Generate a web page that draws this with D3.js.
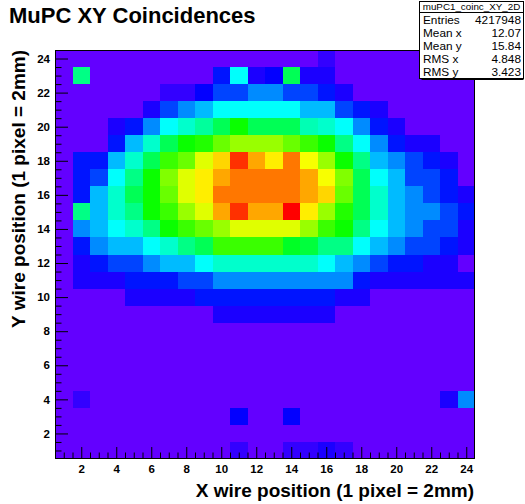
<!DOCTYPE html>
<html>
<head>
<meta charset="utf-8">
<script src="https://cdn.jsdelivr.net/npm/d3@7"></script>
<style>
  body { margin: 0; background: #fff; }
  svg { display: block; }
  text { font-family: "Liberation Sans", Arial, Helvetica, sans-serif; fill: #000; }
</style>
</head>
<body>
<svg id="chart" width="525" height="504"></svg>
<script>
// Wire numbers along each axis (bin centres)
const xBins = [1,2,3,4,5,6,7,8,9,10,11,12,13,14,15,16,17,18,19,20,21,22,23,24];
// Rows listed top to bottom
const yBins = [24,23,22,21,20,19,18,17,16,15,14,13,12,11,10,9,8,7,6,5,4,3,2,1];

// Coincidence counts, one row per Y wire (Y = 24 first), one column per X wire
const counts = [
  [1510,1470,1490,1480,1500,1460,1520,1490,1470,1500,1480,1510,1490,1470,1500,2690,1480,1490,1500,1470,1490,1510,1480,1460],
  [1480,13440,1500,1490,1470,1510,1490,1480,1500,4480,10450,3290,3880,14640,3290,3290,1490,1480,1500,1470,1490,1510,1480,1470],
  [1490,1500,1480,1470,1510,1490,2690,2690,3880,5680,5680,7470,7470,5680,5680,4480,3290,1500,1480,1490,1470,1500,1490,1480],
  [1500,1480,1490,1510,1470,3290,5680,7470,8660,10450,10450,10450,10450,10450,8660,8660,5680,4480,3290,1490,1500,1480,1470,1490],
  [1470,1490,1500,3290,4480,7470,10450,11650,12840,14640,17030,14640,14640,14640,12250,11650,10450,7470,4480,3290,1490,1480,1500,1490],
  [1490,1510,1480,4480,8660,11650,14640,17030,17620,19420,20610,20610,20610,19420,18220,17030,13440,10450,7470,4480,3290,3290,1490,1500],
  [1480,4480,4480,8660,11650,14640,18220,19420,22400,24200,28380,25390,23600,26590,23000,20610,17030,13440,8660,7470,5680,4480,3290,1490],
  [1500,4480,5680,10450,13440,17030,20010,22400,23600,25390,26590,26590,26590,26590,25390,23000,20010,14640,10450,8660,5680,5680,4480,1480],
  [1490,4480,8660,11650,14640,17030,19420,22400,23600,26590,26590,26590,26590,26590,25390,24200,19420,14640,11650,8660,7470,5680,4480,3290],
  [1470,13440,8660,11650,13440,17030,18220,20610,22400,25390,28380,25390,25390,29870,23600,20610,17620,14640,11650,8660,7470,7470,5680,4480],
  [1500,7470,8660,10450,11650,13440,17030,18220,19420,20610,22400,22400,22400,22400,20610,18220,17030,13440,10450,8660,7470,5680,5680,3290],
  [1490,4480,7470,8660,8660,10450,11650,13440,14640,18220,18220,18220,18220,15830,15230,13440,13440,10450,8660,7470,5680,5680,4480,3290],
  [1480,3290,4480,5680,5680,7470,8660,8660,10450,11650,11650,11650,11650,11650,11650,10450,8660,7470,5680,4480,4480,3290,3290,1490],
  [1500,3290,3290,3290,4480,4480,4480,5680,5680,7470,7470,7470,7470,7470,7470,7470,7470,4480,3290,3290,3290,3290,3290,3290],
  [1490,1480,1500,1470,3290,3290,3290,3290,4480,4480,4480,4480,4480,4480,4480,4480,3290,3290,1490,1500,1480,1470,1490,1510],
  [1510,1490,1480,1500,1470,1490,1500,1480,1490,3290,3290,3290,3290,3290,3290,3290,1500,1490,1470,1480,1500,1490,1510,1480],
  [1480,1500,1490,1470,1510,1490,1480,1500,1470,1490,1510,1480,1500,1490,1470,1480,1500,1490,1510,1470,1480,1500,1490,1470],
  [1500,1470,1490,1510,1480,1500,1490,1470,1500,1480,1490,1510,1470,1500,1490,1480,1470,1510,1490,1500,1470,1490,1480,1500],
  [1490,1510,1470,1490,1500,1480,1510,1490,1480,1500,1470,1490,1500,1480,1510,1490,1500,1470,1480,1490,1510,1480,1500,1490],
  [1470,1490,1500,1480,1490,1510,1470,1500,1490,1470,1500,1480,1490,1510,1480,1500,1490,1480,1500,1510,1490,1470,1480,1500],
  [1500,2690,1480,1490,1470,1500,1490,1510,1480,1490,1500,1470,1490,1480,1500,1510,1470,1490,1500,1480,1490,1500,3290,7470],
  [1490,1480,1510,1500,1490,1470,1480,1500,1490,1510,3880,1480,1490,3880,1500,1470,1490,1480,1510,1490,1500,1480,1470,1490],
  [1480,1500,1490,1470,1500,1490,1510,1480,1470,1490,1500,1480,1510,1490,1470,1500,1480,1490,1500,1470,1490,1510,1480,1500],
  [1500,1490,1470,1480,1510,1500,1490,1470,1500,1480,2690,1490,1510,2690,2690,3290,2690,1500,1480,1490,1470,1500,1490,1480]
];

const xTicks = [2,4,6,8,10,12,14,16,18,20,22,24];
const yTicks = [2,4,6,8,10,12,14,16,18,20,22,24];

const titleText = "MuPC XY Coincidences";
const xTitle = "X wire position (1 pixel = 2mm)";
const yTitle = "Y wire position (1 pixel = 2mm)";

const statsName = "muPC1_coinc_XY_2D";
const statsLabels = ["Entries", "Mean x", "Mean y", "RMS x", "RMS y"];
const statsValues = ["4217948", "12.07", "15.84", "4.848", "3.423"];

// ---- drawing ----
const svg = d3.select("#chart");
const FONT = '"Liberation Sans", Arial, Helvetica, sans-serif';

const frame = { left: 55, right: 475, top: 50, bottom: 459 };
const x = d3.scaleLinear().domain([0.5, 24.5]).range([frame.left, frame.right]);
const y = d3.scaleLinear().domain([0.5, 24.5]).range([frame.bottom, frame.top]);

// 50-step rainbow palette, violet to red
const palette = d3.range(50).map(i => d3.hsl(280 - (i + 1) * 5.6, 1, 0.5).formatHex());
const zMax = d3.max(counts.flat());
const color = d3.scaleQuantize().domain([0, zMax]).range(palette);

const cells = [];
counts.forEach((row, r) => row.forEach((v, c) => cells.push({ xv: xBins[c], yv: yBins[r], v })));

svg.append("g")
  .attr("shape-rendering", "crispEdges")
  .selectAll("rect")
  .data(cells)
  .join("rect")
  .attr("x", d => x(d.xv - 0.5))
  .attr("y", d => y(d.yv + 0.5))
  .attr("width", d => x(d.xv + 0.5) - x(d.xv - 0.5))
  .attr("height", d => y(d.yv - 0.5) - y(d.yv + 0.5))
  .attr("fill", d => color(d.v));

// frame
svg.append("rect")
  .attr("x", x(0.5) + 0.5).attr("y", y(24.5) + 0.5)
  .attr("width", x(24.5) - x(0.5) - 1).attr("height", y(0.5) - y(24.5) - 1)
  .attr("fill", "none").attr("stroke", "#000").attr("stroke-width", 1);

const minorX = d3.range(1, 24.01, 0.5).filter(t => t % 2 !== 0);
const minorY = minorX;

function styleAxis(g) {
  g.select(".domain").remove();
  g.selectAll(".tick line").attr("stroke", "#000");
  g.selectAll(".tick text")
    .attr("font-family", FONT)
    .attr("font-weight", "bold")
    .attr("font-size", "11.5px")
    .attr("fill", "#000");
}

// x axis: ticks point into the frame
svg.append("g")
  .attr("transform", `translate(0,${frame.bottom})`)
  .call(d3.axisBottom(x).tickValues(minorX).tickSize(-6.5).tickFormat(""))
  .call(styleAxis);
svg.append("g")
  .attr("transform", `translate(0,${frame.bottom})`)
  .call(d3.axisBottom(x).tickValues(xTicks).tickSizeInner(-12).tickSizeOuter(0).tickPadding(6))
  .call(styleAxis);

// y axis
svg.append("g")
  .attr("transform", `translate(${frame.left},0)`)
  .call(d3.axisLeft(y).tickValues(minorY).tickSize(-6.5).tickFormat(""))
  .call(styleAxis);
svg.append("g")
  .attr("transform", `translate(${frame.left},0)`)
  .call(d3.axisLeft(y).tickValues(yTicks).tickSizeInner(-13).tickSizeOuter(0).tickPadding(5))
  .call(styleAxis);

// titles
svg.append("text")
  .attr("x", 9).attr("y", 23)
  .attr("font-size", "22px").attr("font-weight", "bold")
  .text(titleText);

svg.append("text")
  .attr("x", 474).attr("y", 497)
  .attr("text-anchor", "end")
  .attr("font-size", "19px").attr("font-weight", "bold")
  .text(xTitle);

svg.append("text")
  .attr("transform", `translate(25,${frame.top}) rotate(-90)`)
  .attr("text-anchor", "end")
  .attr("font-size", "19px").attr("font-weight", "bold")
  .text(yTitle);

// statistics box
const box = { x: 419.5, y: 1.5, w: 104, h: 77 };
const stats = svg.append("g");
stats.append("line")
  .attr("x1", box.x + 2).attr("x2", box.x + box.w)
  .attr("y1", box.y + box.h + 1).attr("y2", box.y + box.h + 1)
  .attr("stroke", "#000");
stats.append("rect")
  .attr("x", box.x).attr("y", box.y).attr("width", box.w).attr("height", box.h)
  .attr("fill", "#fff").attr("stroke", "#000");
stats.append("line")
  .attr("x1", box.x).attr("x2", box.x + box.w)
  .attr("y1", 12.5).attr("y2", 12.5)
  .attr("stroke", "#000");
stats.append("text")
  .attr("x", box.x + box.w / 2).attr("y", 10.3)
  .attr("text-anchor", "middle")
  .attr("font-size", "9.8px")
  .text(statsName);
statsLabels.forEach((lab, i) => {
  const by = 24 + i * 13;
  stats.append("text")
    .attr("x", 423).attr("y", by)
    .attr("font-size", "11.8px")
    .text(lab);
  stats.append("text")
    .attr("x", 521).attr("y", by)
    .attr("text-anchor", "end")
    .attr("font-size", "11.8px")
    .text(statsValues[i]);
});
</script>
</body>
</html>
